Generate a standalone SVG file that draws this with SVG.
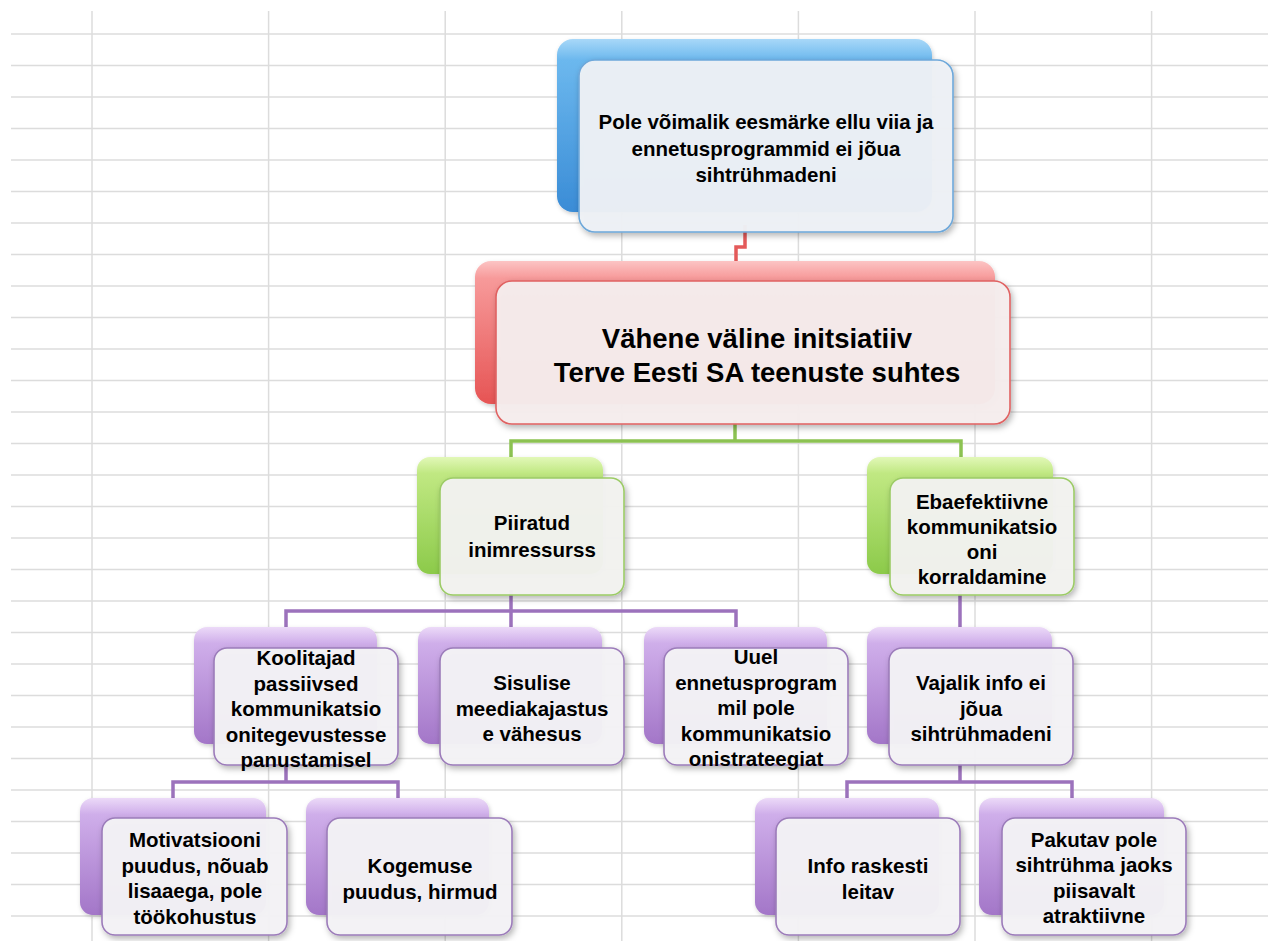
<svg xmlns="http://www.w3.org/2000/svg" width="1268" height="941" viewBox="0 0 1268 941">
<defs>
<linearGradient id="gBlue" x1="0" y1="0" x2="0" y2="1">
<stop offset="0" stop-color="#a8d8f8"/><stop offset="0.12" stop-color="#6cb8ee"/><stop offset="1" stop-color="#3a8cd6"/>
</linearGradient>
<linearGradient id="gRed" x1="0" y1="0" x2="0" y2="1">
<stop offset="0" stop-color="#fcc4c4"/><stop offset="0.12" stop-color="#f79a9a"/><stop offset="1" stop-color="#e65454"/>
</linearGradient>
<linearGradient id="gGreen" x1="0" y1="0" x2="0" y2="1">
<stop offset="0" stop-color="#e2f8b8"/><stop offset="0.14" stop-color="#c0e882"/><stop offset="1" stop-color="#8cca4a"/>
</linearGradient>
<linearGradient id="gPurple" x1="0" y1="0" x2="0" y2="1">
<stop offset="0" stop-color="#ecdaf8"/><stop offset="0.14" stop-color="#cfaeea"/><stop offset="1" stop-color="#a376c8"/>
</linearGradient>
<filter id="sh" x="-10%" y="-10%" width="125%" height="130%">
<feDropShadow dx="2" dy="3" stdDeviation="3" flood-color="#000" flood-opacity="0.3"/>
</filter>
<filter id="shb" x="-10%" y="-10%" width="125%" height="130%">
<feDropShadow dx="1" dy="2" stdDeviation="2" flood-color="#000" flood-opacity="0.2"/>
</filter>
</defs>
<style>
.grid line{stroke:#dcdcdc;stroke-width:1.5}
.back{filter:url(#shb)}
.front{stroke-width:1.6;filter:url(#sh)}
.fb{fill:#eef1f6;fill-opacity:0.96;stroke:#6ea8da}
.fr{fill:#f6eded;fill-opacity:0.96;stroke:#e06262}
.fg{fill:#f2f3f0;fill-opacity:0.96;stroke:#9ccb66}
.fp{fill:#f4f2f6;fill-opacity:0.96;stroke:#9c7cba}
text{font-family:"Liberation Sans",Arial,sans-serif;font-weight:bold;fill:#000;text-anchor:middle}
.t20{font-size:20.5px}
.t27{font-size:27.5px}
.conn path{fill:none;stroke-width:3.5}
</style>
<rect width="1268" height="941" fill="#fff"/>
<g class="grid">
<line x1="11" y1="34" x2="1268" y2="34"/><line x1="11" y1="65.5" x2="1268" y2="65.5"/><line x1="11" y1="97" x2="1268" y2="97"/><line x1="11" y1="128.5" x2="1268" y2="128.5"/><line x1="11" y1="160" x2="1268" y2="160"/><line x1="11" y1="191.5" x2="1268" y2="191.5"/><line x1="11" y1="223" x2="1268" y2="223"/><line x1="11" y1="254.5" x2="1268" y2="254.5"/><line x1="11" y1="286" x2="1268" y2="286"/><line x1="11" y1="317.5" x2="1268" y2="317.5"/><line x1="11" y1="349" x2="1268" y2="349"/><line x1="11" y1="380.5" x2="1268" y2="380.5"/><line x1="11" y1="412" x2="1268" y2="412"/><line x1="11" y1="443.5" x2="1268" y2="443.5"/><line x1="11" y1="475" x2="1268" y2="475"/><line x1="11" y1="506.5" x2="1268" y2="506.5"/><line x1="11" y1="538" x2="1268" y2="538"/><line x1="11" y1="569.5" x2="1268" y2="569.5"/><line x1="11" y1="601" x2="1268" y2="601"/><line x1="11" y1="632.5" x2="1268" y2="632.5"/><line x1="11" y1="664" x2="1268" y2="664"/><line x1="11" y1="695.5" x2="1268" y2="695.5"/><line x1="11" y1="727" x2="1268" y2="727"/><line x1="11" y1="758.5" x2="1268" y2="758.5"/><line x1="11" y1="790" x2="1268" y2="790"/><line x1="11" y1="821.5" x2="1268" y2="821.5"/><line x1="11" y1="853" x2="1268" y2="853"/><line x1="11" y1="884.5" x2="1268" y2="884.5"/><line x1="11" y1="916" x2="1268" y2="916"/>
<line x1="92" y1="11" x2="92" y2="941"/><line x1="268.6" y1="11" x2="268.6" y2="941"/><line x1="445.2" y1="11" x2="445.2" y2="941"/><line x1="621.8" y1="11" x2="621.8" y2="941"/><line x1="798.4" y1="11" x2="798.4" y2="941"/><line x1="975" y1="11" x2="975" y2="941"/><line x1="1151.6" y1="11" x2="1151.6" y2="941"/>
</g>
<g id="connectors" class="conn">
<path d="M745,225 V247 H736 V262" stroke="#e45a5a" stroke-width="3"/>
<path d="M735,420 V441 H511 V457 M735,441 H961 V457" stroke="#8cc252"/>
<path d="M511,590 V611 H286 V627 M511,611 H736 V627 M511,611 V627 M960,590 V627" stroke="#9c72bc"/>
<path d="M286,760 V782 H173 V798 M286,782 H398 V798 M960,760 V782 H847 V798 M960,782 H1072 V798" stroke="#9c72bc"/>
</g>
<g id="n-top">
<rect class="back" x="557" y="39" width="375" height="173" rx="16" fill="url(#gBlue)"/>
<rect class="front fb" x="579" y="60" width="374" height="172" rx="16"/>
<text class="t20"><tspan x="766" y="129">Pole võimalik eesmärke ellu viia ja</tspan><tspan x="766" y="155.5">ennetusprogrammid ei jõua</tspan><tspan x="766" y="182">sihtrühmadeni</tspan></text>
</g>
<g id="n-main">
<rect class="back" x="475" y="261" width="520" height="143" rx="16" fill="url(#gRed)"/>
<rect class="front fr" x="496" y="281" width="514" height="143" rx="16"/>
<text class="t27"><tspan x="757" y="347.5">Vähene väline initsiatiiv</tspan><tspan x="757" y="382">Terve Eesti SA teenuste suhtes</tspan></text>
</g>
<g id="n-piiratud">
<rect class="back" x="417" y="457" width="186" height="117" rx="13" fill="url(#gGreen)"/>
<rect class="front fg" x="440" y="478" width="184" height="117" rx="13"/>
<text class="t20"><tspan x="532" y="530">Piiratud</tspan><tspan x="532" y="557">inimressurss</tspan></text>
</g>
<g id="n-ebaefektiivne">
<rect class="back" x="867" y="457" width="186" height="117" rx="13" fill="url(#gGreen)"/>
<rect class="front fg" x="890" y="478" width="184" height="117" rx="13"/>
<text class="t20"><tspan x="982" y="509">Ebaefektiivne</tspan><tspan x="982" y="534">kommunikatsio</tspan><tspan x="982" y="559">oni</tspan><tspan x="982" y="584">korraldamine</tspan></text>
</g>
<g id="n-koolitajad">
<rect class="back" x="194" y="627" width="183" height="117" rx="13" fill="url(#gPurple)"/>
<rect class="front fp" x="214" y="648" width="184" height="117" rx="13"/>
<text class="t20"><tspan x="306" y="665">Koolitajad</tspan><tspan x="306" y="690.5">passiivsed</tspan><tspan x="306" y="716">kommunikatsio</tspan><tspan x="306" y="741.5">onitegevustesse</tspan><tspan x="306" y="767">panustamisel</tspan></text>
</g>
<g id="n-sisulise">
<rect class="back" x="418" y="627" width="184" height="117" rx="13" fill="url(#gPurple)"/>
<rect class="front fp" x="440" y="648" width="184" height="117" rx="13"/>
<text class="t20"><tspan x="532" y="690">Sisulise</tspan><tspan x="532" y="715.5">meediakajastus</tspan><tspan x="532" y="741">e vähesus</tspan></text>
</g>
<g id="n-uuel">
<rect class="back" x="644" y="627" width="183" height="117" rx="13" fill="url(#gPurple)"/>
<rect class="front fp" x="664" y="648" width="184" height="117" rx="13"/>
<text class="t20"><tspan x="756" y="664">Uuel</tspan><tspan x="756" y="689.5">ennetusprogram</tspan><tspan x="756" y="715">mil pole</tspan><tspan x="756" y="740.5">kommunikatsio</tspan><tspan x="756" y="766">onistrateegiat</tspan></text>
</g>
<g id="n-vajalik">
<rect class="back" x="867" y="627" width="185" height="117" rx="13" fill="url(#gPurple)"/>
<rect class="front fp" x="889" y="648" width="184" height="117" rx="13"/>
<text class="t20"><tspan x="981" y="690">Vajalik info ei</tspan><tspan x="981" y="715.5">jõua</tspan><tspan x="981" y="741">sihtrühmadeni</tspan></text>
</g>
<g id="n-motivatsiooni">
<rect class="back" x="80" y="798" width="186" height="117" rx="13" fill="url(#gPurple)"/>
<rect class="front fp" x="102" y="818" width="185" height="117" rx="13"/>
<text class="t20"><tspan x="195" y="847">Motivatsiooni</tspan><tspan x="195" y="872.5">puudus, nõuab</tspan><tspan x="195" y="898">lisaaega, pole</tspan><tspan x="195" y="923.5">töökohustus</tspan></text>
</g>
<g id="n-kogemuse">
<rect class="back" x="306" y="798" width="183" height="117" rx="13" fill="url(#gPurple)"/>
<rect class="front fp" x="327" y="818" width="185" height="117" rx="13"/>
<text class="t20"><tspan x="420" y="873">Kogemuse</tspan><tspan x="420" y="899">puudus, hirmud</tspan></text>
</g>
<g id="n-info">
<rect class="back" x="755" y="798" width="184" height="117" rx="13" fill="url(#gPurple)"/>
<rect class="front fp" x="776" y="818" width="184" height="117" rx="13"/>
<text class="t20"><tspan x="868" y="873">Info raskesti</tspan><tspan x="868" y="899">leitav</tspan></text>
</g>
<g id="n-pakutav">
<rect class="back" x="979" y="798" width="185" height="117" rx="13" fill="url(#gPurple)"/>
<rect class="front fp" x="1002" y="818" width="184" height="117" rx="13"/>
<text class="t20"><tspan x="1094" y="846.5">Pakutav pole</tspan><tspan x="1094" y="872">sihtrühma jaoks</tspan><tspan x="1094" y="897.5">piisavalt</tspan><tspan x="1094" y="923">atraktiivne</tspan></text>
</g>
</svg>
